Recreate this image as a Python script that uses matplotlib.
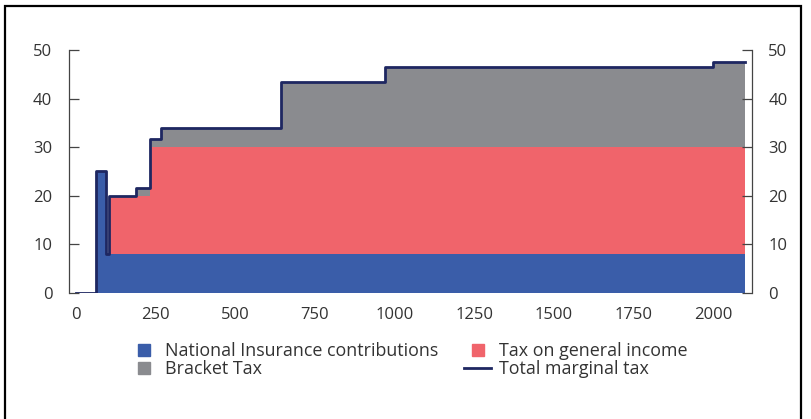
import numpy as np
import matplotlib
matplotlib.use("Agg")
import matplotlib.pyplot as plt
from matplotlib.lines import Line2D
from matplotlib.patches import Rectangle

plt.rcParams['font.family'] = ['Open Sans', 'DejaVu Sans']

# income in thousand NOK where the marginal rates change (step-post)
income = [0, 64.65, 95, 105, 190.35, 234, 267.9, 643.8, 969.2, 2000, 2100]
ni_contrib = [0, 25, 8, 8, 8, 8, 8, 8, 8, 8, 8]
general_tax = [0, 0, 0, 11.9, 11.9, 22, 22, 22, 22, 22, 22]
bracket_tax = [0, 0, 0, 0, 1.7, 1.7, 4.0, 13.5, 16.5, 17.5, 17.5]

labels = ["National Insurance contributions", "Bracket Tax",
          "Tax on general income", "Total marginal tax"]
c_ni = "#3a5da9"
c_gen = "#f0646b"
c_br = "#8a8b8f"
c_tot = "#1e2761"

x = np.array(income)
ni = np.array(ni_contrib)
gen = np.array(general_tax)
br = np.array(bracket_tax)
total = ni + gen + br

fig = plt.figure(figsize=(8.11, 4.19), dpi=100)
ax = fig.add_axes([69/811, 1 - 292.7/419, (751.7 - 69)/811, (292.7 - 50.2)/419])

ax.fill_between(x, 0, ni, step="post", color=c_ni, lw=0)
ax.fill_between(x, ni, ni + gen, step="post", color=c_gen, lw=0)
ax.fill_between(x, ni + gen, total, step="post", color=c_br, lw=0)
ax.plot(x, total, drawstyle="steps-post", color=c_tot, lw=2.0)

ax.set_xlim(-21, 2121)
ax.set_ylim(0, 50)
ax.set_xticks([0, 250, 500, 750, 1000, 1250, 1500, 1750, 2000])
ax.set_yticks([0, 10, 20, 30, 40, 50])

for s in ["top", "bottom"]:
    ax.spines[s].set_visible(False)
for s in ["left", "right"]:
    ax.spines[s].set_color("#444444")
    ax.spines[s].set_linewidth(0.9)

ax.tick_params(axis="y", direction="in", length=7, width=0.9, color="#444444",
               left=True, right=True, labelleft=True, labelright=True,
               labelsize=12, labelcolor="#333333", pad=12)
ax.tick_params(axis="x", length=0, labelsize=12, labelcolor="#333333", pad=10)

handles = [
    Line2D([], [], marker="s", ls="", ms=8.7, color=c_ni),
    Line2D([], [], marker="s", ls="", ms=8.7, color=c_br),
    Line2D([], [], marker="s", ls="", ms=8.7, color=c_gen),
    Line2D([], [], color=c_tot, lw=2),
]
fig.legend(handles, labels, ncol=2, loc="upper left",
           bbox_to_anchor=(130.5/811, 1 - 342/419), frameon=False,
           fontsize=12.9, labelcolor="#333333", handlelength=1.5,
           handletextpad=0.42, labelspacing=0.0, columnspacing=1.45,
           borderpad=0, borderaxespad=0)

fig.add_artist(Rectangle((5/811, -0.1), (801 - 5)/811, 1.1 - 6/419,
                         transform=fig.transFigure, fill=False,
                         ec="black", lw=1.6))

fig.savefig("out.png", dpi=100)
